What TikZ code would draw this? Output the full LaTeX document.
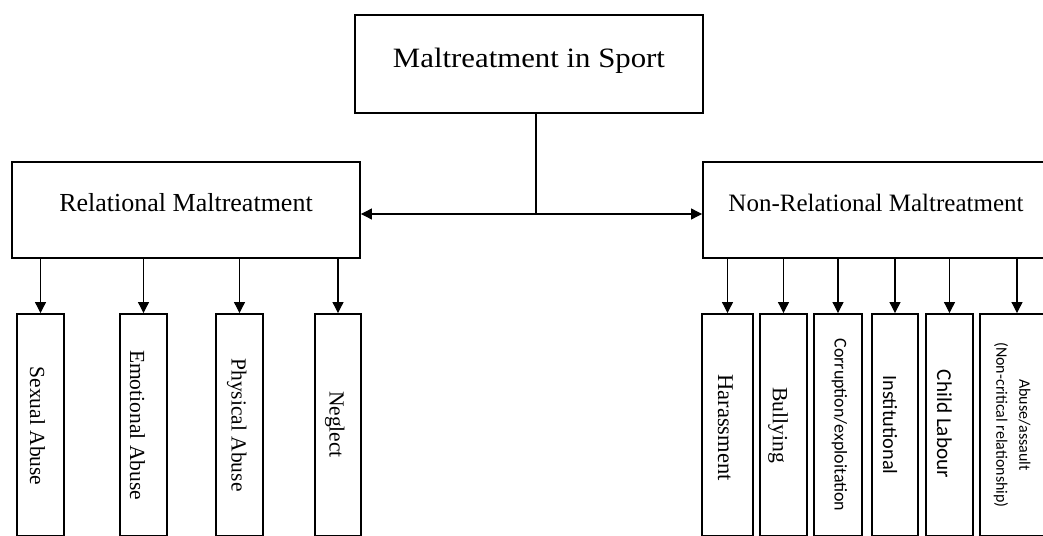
\documentclass[tikz,border=0pt]{standalone}
\usepackage{fontspec}
\setmainfont{Liberation Serif}
\newfontfamily\calfont{Carlito}
\usetikzlibrary{arrows.meta}
\begin{document}
\begin{tikzpicture}[x=1pt,y=-1pt,
  box/.style={draw, line width=1.9pt, inner sep=0pt},
  cbox/.style={box, minimum height=222pt},
  arr/.style={line width=1.1pt, -{Triangle[length=11pt,width=11pt]}},
  txt/.style={inner sep=0pt, anchor=base},
  vtxt/.style={inner sep=0pt, anchor=base, rotate=-90},
  vt/.style={vtxt, font=\fontsize{21.5}{24}\selectfont},
]
\useasboundingbox (0,0) rectangle (1043,535);
% main boxes
\node[box, minimum width=348pt, minimum height=98pt] (top) at (529,64) {};
\node[box, minimum width=348pt, minimum height=96pt] (rel) at (186,210) {};
\node[box, minimum width=347pt, minimum height=96pt] (non) at (876.5,210) {};
\node[txt, font=\fontsize{28}{30}\selectfont] (ttop) at (529,67) {\scalebox{1.1}[1]{Maltreatment in Sport}};
\node[txt, font=\fontsize{26}{28}\selectfont] (trel) at (186,211) {Relational Maltreatment};
\node[txt, font=\fontsize{25}{28}\selectfont] (tnon) at (876,211) {Non-Relational Maltreatment};
% connectors from top
\coordinate (j) at (536,214);
\draw[line width=1.1pt] (j |- top.south) -- (j);
\draw[arr] (j) -- (rel.east |- j);
\draw[arr] (j) -- (non.west |- j);
% left children
\node[cbox, minimum width=47pt] (c1) at (40.5,425) {};
\node[cbox, minimum width=47pt] (c2) at (143.5,425) {};
\node[cbox, minimum width=47pt] (c3) at (239.5,425) {};
\node[cbox, minimum width=46pt] (c4) at (338,425) {};
\node[vt] (l1) at (30,426) {Sexual Abuse};
\node[vt] (l2) at (130,425) {Emotional Abuse};
\node[vt] (l3) at (231.7,425) {Physical Abuse};
\node[vt] (l4) at (329.7,424.5) {Neglect};
\foreach \c in {c1,c2,c3,c4} \draw[arr] (rel.south -| \c.north) -- (\c.north);
% right children
\node[cbox, minimum width=51pt] (d1) at (727.5,425) {};
\node[cbox, minimum width=47pt] (d2) at (783.5,425) {};
\node[cbox, minimum width=48pt] (d3) at (838,425) {};
\node[cbox, minimum width=46pt] (d4) at (895,425) {};
\node[cbox, minimum width=47pt] (d5) at (949.5,425) {};
\node[cbox, minimum width=74pt] (d6) at (1017,425) {};
\node[vtxt, font=\fontsize{22.5}{24}\selectfont] (r1) at (718,427.5) {Harassment};
\node[vtxt, font=\fontsize{21.7}{24}\selectfont] (r2) at (772.8,425) {Bullying};
\node[vtxt, font=\calfont\fontsize{18}{20}\selectfont] (r3) at (834.5,425) {Corruption/exploitation};
\node[vtxt, font=\calfont\fontsize{20.3}{22}\selectfont] (r4) at (883,425) {Institutional};
\node[vtxt, font=\calfont\fontsize{21.2}{22}\selectfont] (r5) at (937,424) {Child Labour};
\node[inner sep=0pt, rotate=-90, align=center, font=\calfont\fontsize{16}{23}\selectfont] (r6) at (1012,425) {Abuse/assault\\(Non-critical relationship)};
\foreach \c in {d1,d2,d3,d4,d5,d6} \draw[arr] (non.south -| \c.north) -- (\c.north);
\end{tikzpicture}
\end{document}
